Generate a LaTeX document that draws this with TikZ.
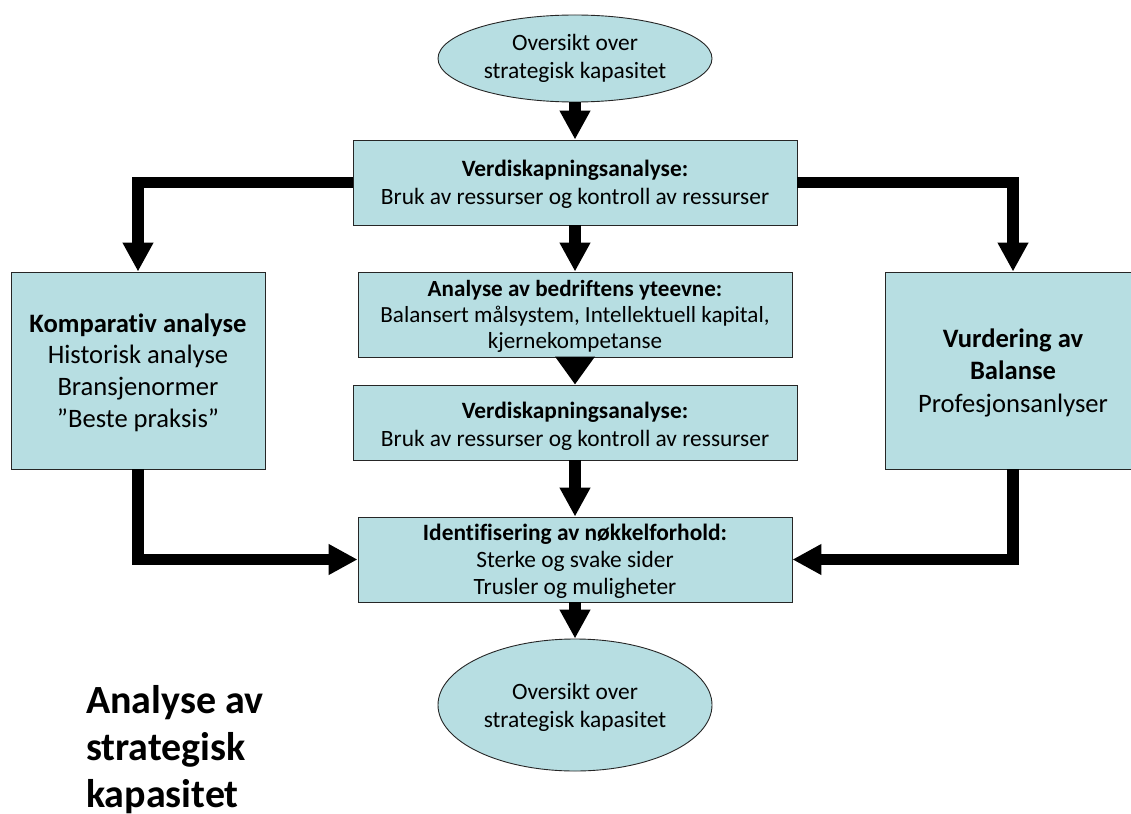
\documentclass[tikz,border=0pt]{standalone}
\usepackage{fontspec}
\setmainfont{Carlito}[Ligatures=NoCommon]
\usetikzlibrary{shapes.geometric,arrows.meta}
\definecolor{boxfill}{HTML}{B7DEE2}
\newcommand{\lift}[1]{\rule{0pt}{\dimexpr\fontcharht\font`\d+#1\relax}}
\begin{document}
\begin{tikzpicture}[x=1pt,y=-1pt,
  box/.style={draw=black!85, line width=0.9pt, fill=boxfill, rectangle, inner sep=0pt, align=center},
  oval/.style={draw=black!85, line width=0.9pt, fill=boxfill, ellipse, inner sep=0pt, align=center,
    minimum width=274pt, font=\fontsize{23.4}{27.5}\selectfont},
  conn/.style={line width=11.5pt, -{Triangle[width=29pt,length=29pt]}, line join=miter},
  midfont/.style={font=\fontsize{23.4}{28.3}\selectfont},
  titlefont/.style={font=\fontsize{40}{47}\selectfont\bfseries, anchor=base west, inner sep=0pt},
]
\useasboundingbox (0,0) rectangle (1131,813);
\clip (0,0) rectangle (1131,813);
\fill[white] (0,0) rectangle (1131,813);

\node[oval, minimum height=87pt] (e1) at (575,58.5) {Oversikt over\\strategisk kapasitet};
\node[box, midfont, minimum width=444pt, minimum height=85pt] (b1) at (575,182.5)
  {\lift{3.4pt}\textbf{Verdiskapningsanalyse:}\\Bruk av ressurser og kontroll av ressurser};
\node[box, font=\fontsize{23.1}{26.3}\selectfont, minimum width=434pt, minimum height=85pt] (b2) at (575,314.5)
  {\lift{4pt}\textbf{Analyse av bedriftens yteevne:}\\Balansert målsystem, Intellektuell kapital,\\kjernekompetanse};
\node[box, midfont, minimum width=444pt, minimum height=75pt] (b3) at (575,422.5)
  {\lift{8pt}\textbf{Verdiskapningsanalyse:}\\Bruk av ressurser og kontroll av ressurser};
\node[box, font=\fontsize{23.4}{27}\selectfont, minimum width=434pt, minimum height=85pt] (b4) at (575,559.5)
  {\lift{3.6pt}\textbf{Identifisering av nøkkelforhold:}\\Sterke og svake sider\\Trusler og muligheter};
\node[oval, minimum height=132pt] (e2) at (575,705) {\lift{4.6pt}Oversikt over\\strategisk kapasitet};

\node[box, font=\fontsize{26.6}{31.7}\selectfont, minimum width=254pt, minimum height=197pt] (L) at (138,370.5)
  {\lift{4.2pt}\textbf{Komparativ analyse}\\Historisk analyse\\Bransjenormer\\”Beste praksis”};
\node[box, font=\fontsize{26.6}{32.5}\selectfont, minimum width=256pt, minimum height=197pt] (R) at (1013,370.5)
  {\lift{4.3pt}\textbf{Vurdering av}\\\textbf{Balanse}\\Profesjonsanlyser};

\node[titlefont] (t1) at (86,713) {Analyse av};
\node[titlefont] (t2) at (86,760) {strategisk};
\node[titlefont] (t3) at (86,807) {kapasitet};

\draw[conn] (e1.south) -- (b1.north);
\draw[conn] (b1.south) -- (b2.north);
\draw[conn, -{Triangle[width=38pt,length=28pt]}] (b2.south) -- (b3.north);
\draw[conn] (b3.south) -- (b4.north);
\draw[conn] (b4.south) -- (e2.north);
\draw[conn] (b1.west) -| (L.north);
\draw[conn] (b1.east) -| (R.north);
\draw[conn] (L.south) |- (b4.west);
\draw[conn] (R.south) |- (b4.east);
\end{tikzpicture}
\end{document}
